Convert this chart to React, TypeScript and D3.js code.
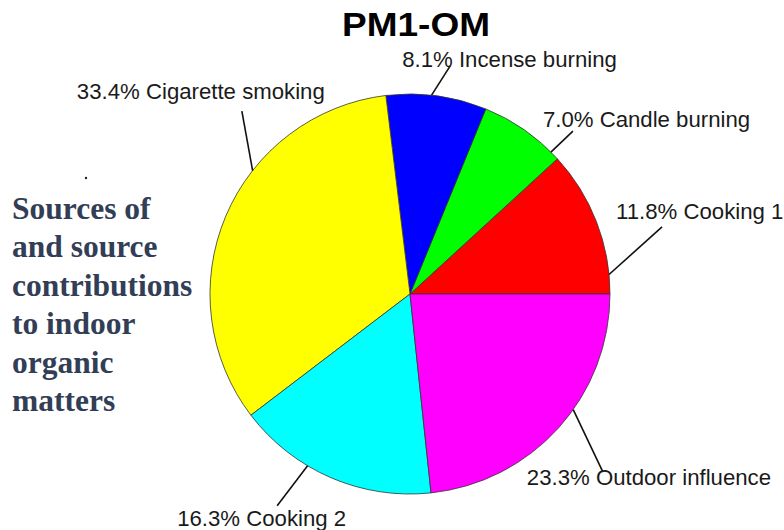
import React, {useEffect, useRef} from 'react'
import * as d3 from 'd3'

const width = 784
const height = 530
const center = {x: 410, y: 294}
const radius = 200

const sources = [
  'Cooking 1',
  'Candle burning',
  'Incense burning',
  'Cigarette smoking',
  'Cooking 2',
  'Outdoor influence',
]
const shares = [11.8, 7.0, 8.1, 33.4, 16.3, 23.3]
const colors = ['#ff0000', '#00ff00', '#0000ff', '#ffff00', '#00ffff', '#ff00ff']
const sideNote = ['Sources of', 'and source', 'contributions', 'to indoor', 'organic', 'matters']

// leader lines: angles in degrees ccw from 3 o'clock, reach as share of the radius
const leaders = [
  {from: 5.6, to: 14.9, reach: 1.304, dx: -46, dy: -8},
  {from: 45.2, to: 45.0, reach: 1.152, dx: -30, dy: -4},
  {from: 83.8, to: 80.0, reach: 1.158, dx: -48, dy: 1},
  {from: 141.9, to: 132.6, reach: 1.242, dx: -165, dy: -12},
  {from: 239.2, to: 237.9, reach: 1.25, dx: -100, dy: 20},
  {from: 324.7, to: 317.3, reach: 1.312, dx: -76, dy: 13},
]

const PieChart = () => {
  const chartRef = useRef(null)

  useEffect(() => {
    drawChart()
  }, [])

  const drawChart = () => {
    const svg = d3.select(chartRef.current)
    svg.selectAll('*').remove()

    const rScale = d3.scaleLinear().domain([0, 1]).range([0, radius])
    const toRad = (deg: number) => (deg * Math.PI) / 180
    const polar = (deg: number, r: number) => [
      center.x + rScale(r) * Math.cos(toRad(deg)),
      center.y - rScale(r) * Math.sin(toRad(deg)),
    ]

    // counterclockwise from 3 o'clock, like R's pie()
    const pie = d3
      .pie<number>()
      .sort(null)
      .startAngle(Math.PI / 2)
      .endAngle(Math.PI / 2 - 2 * Math.PI)

    const arc = d3.arc<d3.PieArcDatum<number>>().innerRadius(0).outerRadius(rScale(1))

    svg
      .append('text')
      .attr('x', 416)
      .attr('y', 36)
      .attr('text-anchor', 'middle')
      .attr('font-family', '"Liberation Sans", Arial, sans-serif')
      .attr('font-weight', 'bold')
      .attr('font-size', 33)
      .attr('textLength', 148)
      .attr('lengthAdjust', 'spacingAndGlyphs')
      .attr('fill', '#000')
      .text('PM1-OM')

    const g = svg.append('g').attr('transform', `translate(${center.x},${center.y})`)

    g.selectAll('path')
      .data(pie(shares))
      .enter()
      .append('path')
      .attr('d', arc)
      .attr('fill', (d, i) => colors[i])
      .attr('stroke', '#333')
      .attr('stroke-width', 0.8)

    const labels = svg.append('g')
    leaders.forEach((l, i) => {
      const [x0, y0] = polar(l.from, 1)
      const [x1, y1] = polar(l.to, l.reach)
      labels
        .append('line')
        .attr('x1', x0)
        .attr('y1', y0)
        .attr('x2', x1)
        .attr('y2', y1)
        .attr('stroke', '#111')
        .attr('stroke-width', 1.6)
      labels
        .append('text')
        .attr('x', x1 + l.dx)
        .attr('y', y1 + l.dy)
        .attr('font-family', '"Liberation Sans", Arial, sans-serif')
        .attr('font-size', 22.2)
        .attr('fill', '#1a1a1a')
        .text(`${shares[i].toFixed(1)}% ${sources[i]}`)
    })

    svg
      .append('circle')
      .attr('cx', 86)
      .attr('cy', 178)
      .attr('r', 1.2)
      .attr('fill', '#222')

    svg
      .append('g')
      .selectAll('text')
      .data(sideNote)
      .enter()
      .append('text')
      .attr('x', 12)
      .attr('y', (d, i) => 219 + i * 38.4)
      .attr('font-family', '"Liberation Serif", "Times New Roman", serif')
      .attr('font-weight', 'bold')
      .attr('font-size', 31.5)
      .attr('fill', '#323e56')
      .text(d => d)
  }

  return (
    <svg
      ref={chartRef}
      width={width}
      height={height}
      style={{position: 'absolute', left: 0, top: 0, background: '#fff'}}
    ></svg>
  )
}

export default function App() {
  return <PieChart />
}
